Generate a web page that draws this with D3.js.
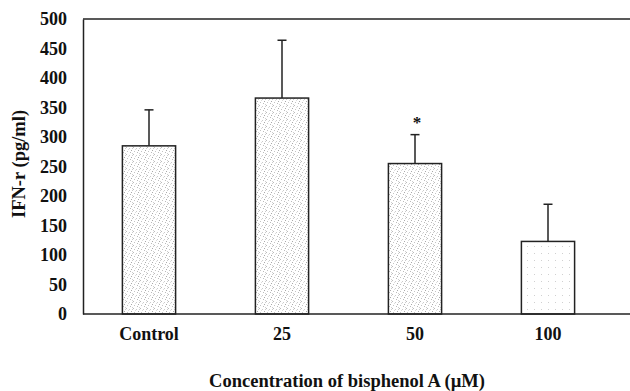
<!DOCTYPE html>
<html><head><meta charset="utf-8">
<script src="https://cdn.jsdelivr.net/npm/d3@7"></script>
<style>
html,body{margin:0;padding:0;background:#fff;}
svg{display:block;}
text{font-family:"Liberation Serif","Times New Roman",serif;font-weight:bold;fill:#111;}
</style></head>
<body>
<svg id="chart" width="630" height="391"></svg>
<script>
const categories = ["Control", "25", "50", "100"];
const means = [285, 366, 255, 123];
const errors = [61, 98, 49, 63];
const significant = [false, false, true, false];
const yTicks = [0, 50, 100, 150, 200, 250, 300, 350, 400, 450, 500];
const yTitle = "IFN-r (pg/ml)";
const xTitle = "Concentration of bisphenol A (\u00b5M)";

(function () {
const svg = d3.select("#chart");
const W = 630;
const plotLeft = 83, plotTop = 19, plotBottom = 314;

const x = d3.scaleBand().domain(categories).range([82.5, 614.5]).paddingInner(0.6).paddingOuter(0.3);
const y = d3.scaleLinear().domain([0, 500]).range([plotBottom, plotTop]);

const defs = svg.append("defs");
function makePattern(id, dots) {
  const p = defs.append("pattern").attr("id", id).attr("patternUnits", "userSpaceOnUse")
    .attr("width", 7).attr("height", 7);
  p.append("rect").attr("width", 7).attr("height", 7).attr("fill", "#fff");
  dots.forEach(d => p.append("rect").attr("x", d[0]).attr("y", d[1]).attr("width", 1).attr("height", 1).attr("fill", d[2]));
}
makePattern("dense", [[0,0,"#bbb"],[3,1,"#ccc"],[5,3,"#aaa"],[1,4,"#c4c4c4"],[4,5,"#bbb"],[6,6,"#d0d0d0"],[2,2,"#ddd"],[6,1,"#ccc"]]);
makePattern("sparse", [[2,1,"#d0d0d0"]]);
const fills = ["url(#dense)", "url(#dense)", "url(#dense)", "url(#sparse)"];

svg.append("line").attr("x1", plotLeft).attr("x2", W).attr("y1", plotTop).attr("y2", plotTop)
  .attr("stroke", "#222").attr("stroke-width", 1.5);

const yAxis = d3.axisLeft(y).tickValues(yTicks).tickSize(0).tickPadding(16);
const gy = svg.append("g").attr("transform", `translate(${plotLeft},0)`).call(yAxis);
gy.attr("font-family", null).attr("font-size", null);
gy.select(".domain").attr("stroke", "#222").attr("stroke-width", 1.5);
gy.selectAll("text").attr("font-size", 18);

svg.append("g").selectAll("rect").data(categories).join("rect")
  .attr("x", d => x(d)).attr("width", x.bandwidth())
  .attr("y", (d, i) => y(means[i])).attr("height", (d, i) => y(0) - y(means[i]))
  .attr("fill", (d, i) => fills[i]).attr("stroke", "#222").attr("stroke-width", 1.5);

const eb = svg.append("g").attr("stroke", "#222").attr("stroke-width", 1.5);
categories.forEach((c, i) => {
  const cx = x(c) + x.bandwidth() / 2;
  eb.append("line").attr("x1", cx).attr("x2", cx).attr("y1", y(means[i])).attr("y2", y(means[i] + errors[i]));
  eb.append("line").attr("x1", cx - 4.5).attr("x2", cx + 4.5).attr("y1", y(means[i] + errors[i])).attr("y2", y(means[i] + errors[i]));
  if (significant[i]) {
    svg.append("text").attr("x", cx + 2).attr("y", y(means[i] + errors[i]) - 7)
      .attr("text-anchor", "middle").attr("font-size", 17).text("*");
  }
});

const xAxis = d3.axisBottom(x).tickSize(0).tickPadding(13);
const gx = svg.append("g").attr("transform", `translate(0,${plotBottom})`).call(xAxis);
gx.attr("font-family", null).attr("font-size", null);
gx.select(".domain").remove();
gx.selectAll("text").attr("font-size", 18);
svg.append("line").attr("x1", plotLeft).attr("x2", W).attr("y1", plotBottom).attr("y2", plotBottom)
  .attr("stroke", "#222").attr("stroke-width", 1.5);

svg.append("text").attr("x", 347).attr("y", 387).attr("text-anchor", "middle")
  .attr("font-size", 18.5).text(xTitle);
svg.append("text").attr("transform", "translate(25,164) rotate(-90)").attr("text-anchor", "middle")
  .attr("font-size", 18.5).text(yTitle);
})();
</script>
</body></html>
